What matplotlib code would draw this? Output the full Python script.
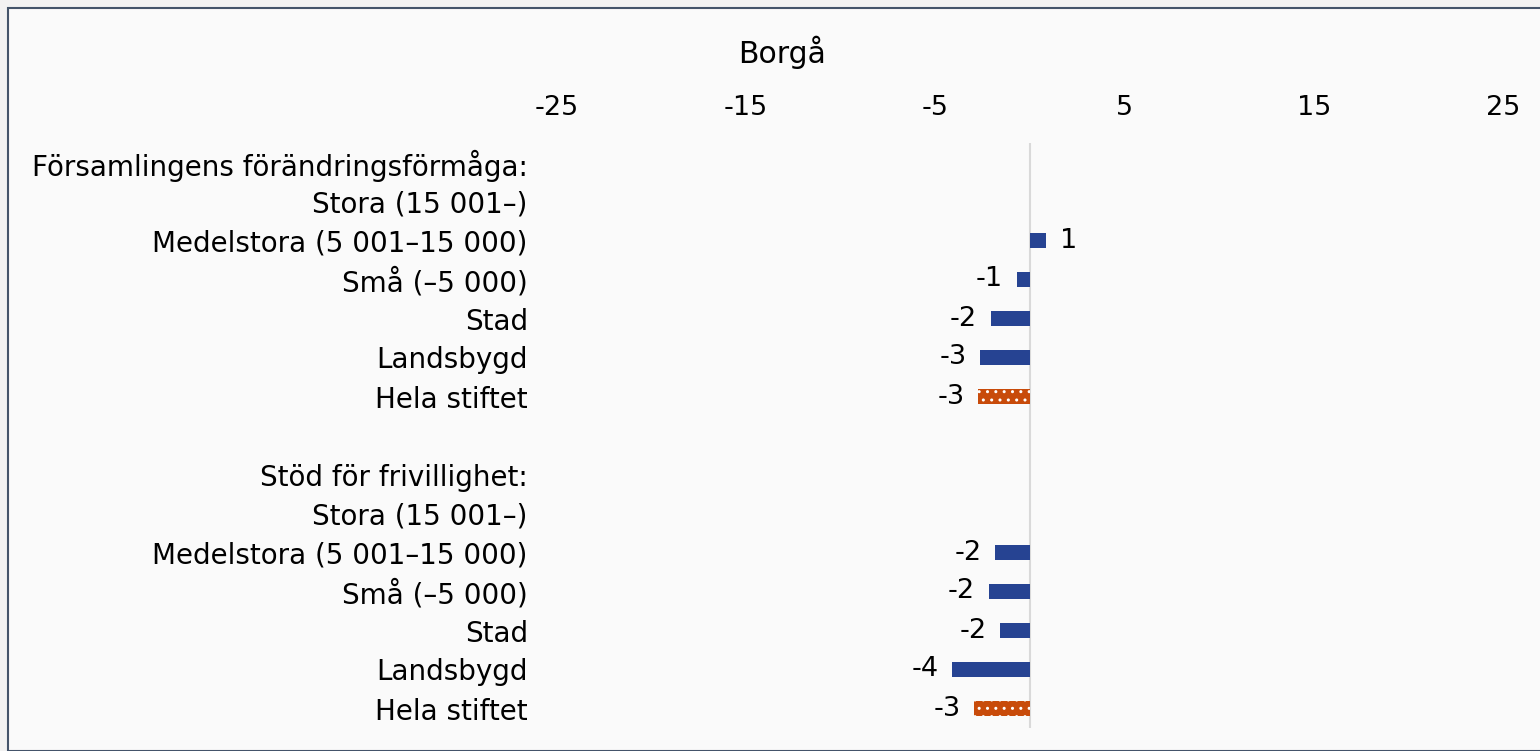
import numpy as np
import matplotlib.pyplot as plt
from matplotlib.patches import Rectangle

plt.rcParams['font.family'] = ['DejaVu Sans']
plt.rcParams['hatch.linewidth'] = 1.0

# Rader i diagrammet, uppifrån och ned (tom sträng = mellanrum)
labels = [
    'Församlingens förändringsförmåga:',
    'Stora (15 001–)',
    'Medelstora (5 001–15 000)',
    'Små (–5 000)',
    'Stad',
    'Landsbygd',
    'Hela stiftet',
    '',
    'Stöd för frivillighet:',
    'Stora (15 001–)',
    'Medelstora (5 001–15 000)',
    'Små (–5 000)',
    'Stad',
    'Landsbygd',
    'Hela stiftet',
]
values = [np.nan, np.nan, 0.86, -0.70, -2.07, -2.63, -2.74,
          np.nan,
          np.nan, np.nan, -1.84, -2.17, -1.56, -4.10, -2.95]
is_total = [False, False, False, False, False, False, True,
            False,
            False, False, False, False, False, False, True]
ticks = [-25, -15, -5, 5, 15, 25]

blue = '#264392'
orange = '#C84B0A'

fig = plt.figure(figsize=(15.4, 7.51), dpi=100, facecolor='#F2F2F2')
fig.patches.append(Rectangle((8 / 1540, 0), 1, 1 - 8 / 751, transform=fig.transFigure,
                             facecolor='#FAFAFA', edgecolor='#44546A', lw=1.5, zorder=-5))
ax = fig.add_axes([557 / 1540, 1 - 728 / 751, 946 / 1540, 585 / 751])
ax.set_facecolor('none')

y = np.arange(len(labels))
vals = np.array(values)
plain = [v if not t else np.nan for v, t in zip(vals, is_total)]
total = [v if t else np.nan for v, t in zip(vals, is_total)]

b1 = ax.barh(y, plain, height=0.36, color=blue, zorder=3)
b2 = ax.barh(y, total, height=0.36, color=orange, edgecolor='white', lw=0,
             hatch='..', zorder=3)

for bars in (b1, b2):
    lbls = ['' if np.isnan(v) else f'{v:.0f}' for v in bars.datavalues]
    ax.bar_label(bars, labels=lbls, padding=10, fontsize=19.5)

ax.axvline(0, color='#D9D9D9', lw=1.5, zorder=1)

ax.set_xlim(-25, 25)
ax.set_ylim(len(labels) - 0.5, -0.5)
ax.set_xticks(ticks)
ax.set_xticklabels([str(t) for t in ticks])
ax.xaxis.tick_top()
ax.set_yticks(y)
ax.set_yticklabels(labels)
ax.tick_params(axis='x', length=0, pad=16, labelsize=19.5)
ax.tick_params(axis='y', length=0, pad=21, labelsize=20)
for s in ax.spines.values():
    s.set_visible(False)

fig.text(782 / 1540, 1 - 52 / 751, 'Borgå', ha='center', va='center', fontsize=21.5)

fig.savefig('out.png', dpi=100, facecolor=fig.get_facecolor())
